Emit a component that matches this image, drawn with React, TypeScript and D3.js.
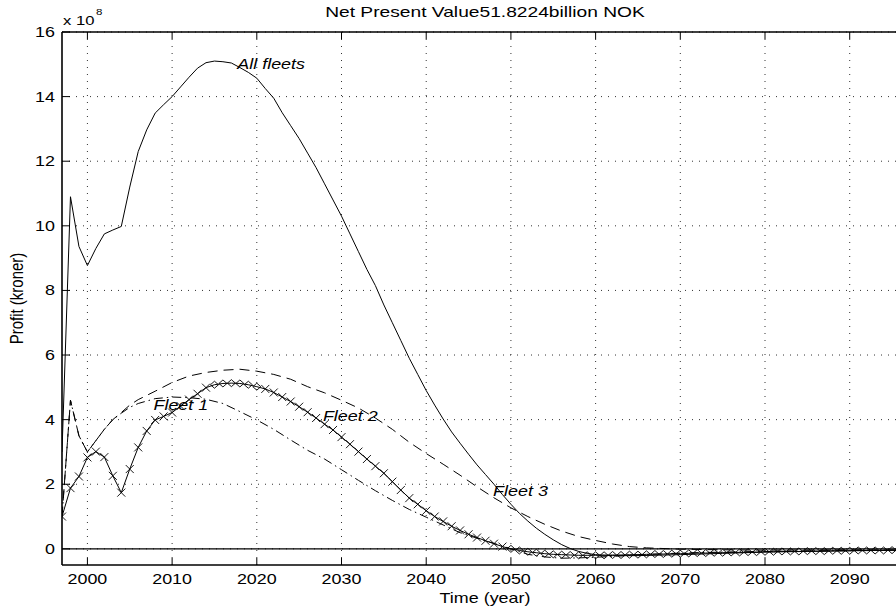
import React from "react";
import * as d3 from "d3";

// ---------- data (values in units of 1e8 kroner) ----------
const xTicks = [2000, 2010, 2020, 2030, 2040, 2050, 2060, 2070, 2080, 2090];
const yTicks = [0, 2, 4, 6, 8, 10, 12, 14, 16];

const allFleetYears = [
  1997, 1998, 1999, 2000, 2001, 2002, 2003, 2004, 2005, 2006, 2007, 2008, 2009, 2010,
  2011, 2012, 2013, 2014, 2015, 2016, 2017, 2018, 2019, 2020, 2021, 2022, 2023, 2024,
  2025, 2026, 2027, 2028, 2029, 2030, 2031, 2032, 2033, 2034, 2035, 2036, 2037, 2038,
  2039, 2040, 2041, 2042, 2043, 2044, 2045, 2046, 2047, 2048, 2049, 2050, 2051, 2052,
  2053, 2054, 2055, 2056, 2057, 2058, 2059, 2060, 2062, 2065, 2070, 2075, 2080, 2085,
  2090, 2097,
];
const allFleetValues = [
  3.0, 10.9, 9.36, 8.77, 9.3, 9.75, 9.87, 9.98, 11.2, 12.3, 12.97, 13.49, 13.75, 14.0,
  14.3, 14.6, 14.88, 15.05, 15.1, 15.08, 15.04, 14.9, 14.75, 14.57, 14.25, 13.95, 13.5, 13.1,
  12.7, 12.25, 11.8, 11.3, 10.8, 10.3, 9.75, 9.2, 8.65, 8.15, 7.55, 7.0, 6.45, 5.9,
  5.4, 4.9, 4.45, 4.02, 3.62, 3.27, 2.93, 2.6, 2.3, 2.0, 1.68, 1.38, 1.1, 0.86,
  0.64, 0.45, 0.28, 0.13, 0.01, -0.08, -0.14, -0.18, -0.21, -0.21, -0.18, -0.14, -0.1, -0.08,
  -0.06, -0.04,
];

const fleet2Years = [
  1997, 1998, 1999, 2000, 2001, 2002, 2003, 2004, 2005, 2006, 2008, 2010, 2012, 2014,
  2016, 2018, 2020, 2022, 2024, 2026, 2028, 2030, 2032, 2034, 2036, 2038, 2040, 2042,
  2044, 2046, 2048, 2050, 2052, 2054, 2056, 2058, 2060, 2062, 2064, 2066, 2070, 2075,
  2080, 2090, 2097,
];
const fleet2Values = [
  1.0, 4.6, 3.5, 3.0, 3.35, 3.7, 4.0, 4.22, 4.45, 4.62, 4.88, 5.15, 5.35, 5.46,
  5.53, 5.56, 5.5, 5.4, 5.25, 5.02, 4.83, 4.6, 4.36, 4.05, 3.7, 3.3, 2.95, 2.62,
  2.28, 1.92, 1.58, 1.27, 1.0, 0.76, 0.55, 0.38, 0.26, 0.15, 0.07, 0.03, -0.01, -0.03,
  -0.04, -0.03, -0.03,
];

const fleet1Years = [
  1997, 1998, 1999, 2000, 2001, 2002, 2003, 2004, 2005, 2006, 2008, 2010, 2012, 2014,
  2016, 2018, 2020, 2022, 2024, 2026, 2028, 2030, 2032, 2034, 2036, 2038, 2040, 2042,
  2044, 2046, 2048, 2050, 2052, 2054, 2056, 2058, 2060, 2065, 2070, 2075, 2080, 2090,
  2097,
];
const fleet1Values = [
  1.0, 4.6, 3.5, 3.0, 3.35, 3.7, 4.0, 4.2, 4.38, 4.5, 4.65, 4.7, 4.68, 4.63,
  4.5, 4.25, 3.99, 3.7, 3.37, 3.05, 2.78, 2.45, 2.12, 1.8, 1.5, 1.22, 0.98, 0.74,
  0.5, 0.33, 0.17, 0.0, -0.17, -0.25, -0.29, -0.28, -0.26, -0.19, -0.13, -0.1, -0.08, -0.05,
  -0.04,
];

// yearly, 1997 .. 2097
const fleet3StartYear = 1997;
const fleet3Values = [
  1.0, 1.88, 2.24, 2.83, 3.01, 2.84, 2.26, 1.74, 2.47, 3.14,
  3.65, 3.99, 4.1, 4.22, 4.42, 4.62, 4.8, 4.99, 5.08, 5.12,
  5.13, 5.12, 5.08, 5.02, 4.95, 4.84, 4.7, 4.56, 4.4, 4.23,
  4.05, 3.86, 3.68, 3.46, 3.24, 3.01, 2.78, 2.56, 2.34, 2.08,
  1.82, 1.57, 1.38, 1.18, 1.0, 0.85, 0.7, 0.57, 0.45, 0.35,
  0.25, 0.16, 0.07, 0.0, -0.05, -0.09, -0.12, -0.15, -0.17, -0.18,
  -0.19, -0.2, -0.2, -0.2, -0.2, -0.19, -0.19, -0.18, -0.18, -0.17,
  -0.16, -0.16, -0.15, -0.15, -0.14, -0.13, -0.13, -0.12, -0.12, -0.11,
  -0.11, -0.1, -0.1, -0.09, -0.09, -0.08, -0.08, -0.08, -0.07, -0.07,
  -0.07, -0.06, -0.06, -0.06, -0.05, -0.05, -0.05, -0.05, -0.04, -0.04,
  -0.04,
];
const diamondRanges = [
  [2015, 2020],
  [2050, 2097],
];

// label anchored at its left edge
const labels = [
  { text: "All fleets", year: 2017.7, value: 15.0 },
  { text: "Fleet 1", year: 2007.8, value: 4.45 },
  { text: "Fleet 2", year: 2027.8, value: 4.1 },
  { text: "Fleet 3", year: 2047.9, value: 1.8 },
];

// ---------- layout ----------
const W = 896;
const H = 611;
const left = 62;
const right = 909;
const top = 32;
const bottom = 565;
const FONT = "'Liberation Sans', Arial, Helvetica, sans-serif";
const SX = 1.28;

const x = d3.scaleLinear().domain([1997, 2097]).range([left, right]);
const y = d3.scaleLinear().domain([-0.5, 16]).range([bottom, top]);

const pairs = (ys: number[], vs: number[]) => ys.map((yr, i) => [yr, vs[i]] as [number, number]);
const line = d3
  .line<[number, number]>()
  .x((d) => x(d[0]))
  .y((d) => y(d[1]));

function T(props: {
  x: number;
  y: number;
  size?: number;
  anchor?: string;
  italic?: boolean;
  children: React.ReactNode;
}) {
  const { x: tx, y: ty, size = 14, anchor = "start", italic = false, children } = props;
  return (
    <text
      transform={`translate(${tx},${ty}) scale(${SX},1)`}
      fontFamily={FONT}
      fontSize={size}
      fontStyle={italic ? "italic" : "normal"}
      textAnchor={anchor}
      fill="#000"
    >
      {children}
    </text>
  );
}

export default function App() {
  const fleet3 = fleet3Values.map((v, i) => [fleet3StartYear + i, v] as [number, number]);
  const isDiamond = (yr: number) => diamondRanges.some(([a, b]) => yr >= a && yr <= b);

  return (
    <svg
      width={W}
      height={H}
      style={{ position: "absolute", left: 0, top: 0, background: "#fff" }}
      xmlns="http://www.w3.org/2000/svg"
    >
      <defs>
        <clipPath id="plotClip">
          <rect x={left} y={top} width={right - left} height={bottom - top} />
        </clipPath>
      </defs>
      <rect x={0} y={0} width={W} height={H} fill="#fff" />

      {/* grid */}
      <g stroke="#333" strokeWidth={1} strokeDasharray="1,6">
        {xTicks.map((t) => (
          <line key={"gx" + t} x1={x(t)} x2={x(t)} y1={top} y2={bottom} />
        ))}
        {yTicks.map((t) => (
          <line key={"gy" + t} x1={left} x2={right} y1={y(t)} y2={y(t)} />
        ))}
      </g>

      <g clipPath="url(#plotClip)" fill="none" stroke="#000" strokeWidth={1}>
        {/* zero line */}
        <line x1={left} x2={right} y1={y(0)} y2={y(0)} strokeWidth={1.2} />
        <path d={line(pairs(allFleetYears, allFleetValues)) || ""} />
        <path d={line(pairs(fleet2Years, fleet2Values)) || ""} strokeDasharray="10,6" />
        <path d={line(pairs(fleet1Years, fleet1Values)) || ""} strokeDasharray="9,4,1.5,4" />
        <path d={line(fleet3) || ""} />
        {fleet3.map(([yr, v]) => {
          const cx = x(yr);
          const cy = y(v);
          if (isDiamond(yr)) {
            return (
              <path
                key={"m" + yr}
                d={`M${cx - 4},${cy}L${cx},${cy - 3.5}L${cx + 4},${cy}L${cx},${cy + 3.5}Z`}
                strokeWidth={0.9}
                fill="none"
              />
            );
          }
          return (
            <path
              key={"m" + yr}
              d={`M${cx - 4},${cy - 4}L${cx + 4},${cy + 4}M${cx - 4},${cy + 4}L${cx + 4},${cy - 4}`}
              strokeWidth={0.9}
            />
          );
        })}
      </g>

      {/* axes box */}
      <g stroke="#000" fill="none">
        <line x1={left} x2={right} y1={top} y2={top} strokeWidth={1.3} />
        <line x1={left} x2={right} y1={bottom} y2={bottom} strokeWidth={1.3} />
        <line x1={left} x2={left} y1={top} y2={bottom} strokeWidth={1.6} />
        {xTicks.map((t) => (
          <g key={"tx" + t}>
            <line x1={x(t)} x2={x(t)} y1={bottom} y2={bottom - 7} strokeWidth={1} />
            <line x1={x(t)} x2={x(t)} y1={top} y2={top + 7} strokeWidth={1} />
          </g>
        ))}
        {yTicks.map((t) => (
          <line key={"ty" + t} x1={left} x2={left + 8} y1={y(t)} y2={y(t)} strokeWidth={1} />
        ))}
      </g>

      {/* tick labels */}
      {xTicks.map((t) => (
        <T key={"lx" + t} x={x(t)} y={584} anchor="middle">
          {t}
        </T>
      ))}
      {yTicks.map((t) => (
        <T key={"ly" + t} x={55} y={y(t) + 5} anchor="end">
          {t}
        </T>
      ))}
      <T x={63} y={25} size={13}>
        x 10
      </T>
      <T x={96} y={15} size={9}>
        8
      </T>

      {/* curve labels */}
      {labels.map((l) => (
        <T key={l.text} x={x(l.year)} y={y(l.value) + 5} italic>
          {l.text}
        </T>
      ))}

      {/* titles */}
      <T x={485} y={17} size={15} anchor="middle">
        Net Present Value51.8224billion NOK
      </T>
      <T x={485} y={603} anchor="middle">
        Time (year)
      </T>
      <text
        transform={`translate(23,${(top + bottom) / 2}) rotate(-90) scale(1,${SX})`}
        fontFamily={FONT}
        fontSize={15}
        textAnchor="middle"
        fill="#000"
      >
        Profit (kroner)
      </text>
    </svg>
  );
}
